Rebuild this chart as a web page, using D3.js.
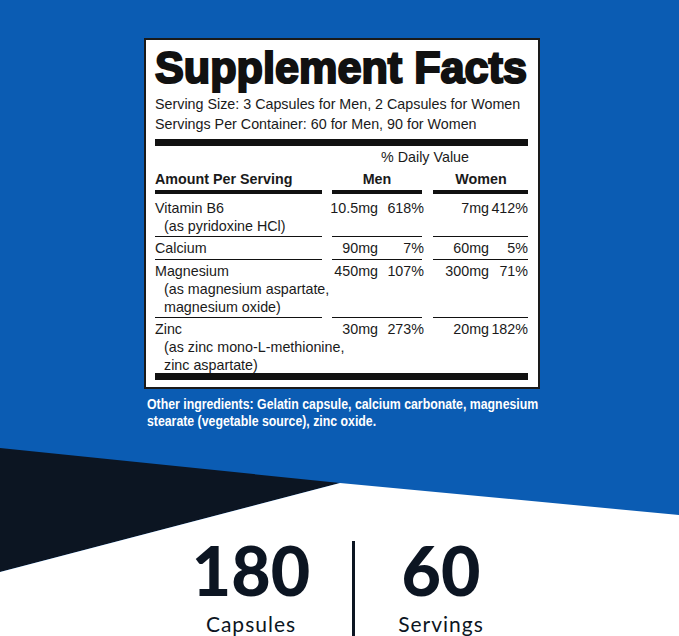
<!DOCTYPE html><html><head><meta charset="utf-8">
<script src="https://cdn.jsdelivr.net/npm/d3@7"></script>
<style>body{margin:0;background:#0b5cb3}svg{display:block}</style></head><body>
<script>
const title = "Supplement Facts";
const servingLines = ["Serving Size: 3 Capsules for Men, 2 Capsules for Women","Servings Per Container: 60 for Men, 90 for Women"];
const nutrients = ["Vitamin B6","Calcium","Magnesium","Zinc"];
const subLines = [["(as pyridoxine HCl)"],[],["(as magnesium aspartate,","magnesium oxide)"],["(as zinc mono-L-methionine,","zinc aspartate)"]];
const menAmt = ["10.5mg","90mg","450mg","30mg"];
const menPct = ["618%","7%","107%","273%"];
const womenAmt = ["7mg","60mg","300mg","20mg"];
const womenPct = ["412%","5%","71%","182%"];
const otherIngr = ["Other ingredients: Gelatin capsule, calcium carbonate, magnesium","stearate (vegetable source), zinc oxide."];
const stats = [{n:"180",l:"Capsules"},{n:"60",l:"Servings"}];

const W=679,H=636;
const svg=d3.select("body").append("svg").attr("width",W).attr("height",H);
const dark="#0c1522", blue="#0b5cb3";
svg.append("rect").attr("width",W).attr("height",H).attr("fill",blue);
svg.append("polygon").attr("points","0,448 340,483 0,572").attr("fill",dark);
svg.append("polygon").attr("points",`0,572 340,483 679,515 679,636 0,636`).attr("fill","#fff");
svg.append("rect").attr("x",145).attr("y",39).attr("width",394).attr("height",349).attr("fill","#fff").attr("stroke","#1a1a1a").attr("stroke-width",2);
const F="Liberation Sans, Arial, sans-serif";
const t=(x,y,s,o={})=>svg.append("text").attr("x",x).attr("y",y).text(s).attr("font-family",o.f||F).attr("font-size",o.fs||14).attr("font-weight",o.fw||400).attr("fill",o.c||"#1a1a1a").attr("text-anchor",o.a||"start");
t(155,83,title,{fs:45,fw:700,c:"#111"}).attr("textLength",372).attr("lengthAdjust","spacingAndGlyphs").attr("stroke","#111").attr("stroke-width",2.2);
servingLines.forEach((s,i)=>t(155,109+i*20,s,{fs:14.3}));
const bar=(x1,x2,y,h)=>svg.append("rect").attr("x",x1).attr("y",y).attr("width",x2-x1).attr("height",h).attr("fill","#111");
bar(155,528,139,7);
t(425,162,"% Daily Value",{fs:14.3,a:"middle"});
t(155,184,"Amount Per Serving",{fs:14.3,fw:700});
t(377,184,"Men",{fs:14.3,fw:700,a:"middle"});
t(481,184,"Women",{fs:14.3,fw:700,a:"middle"});
const segs=[[155,322],[332,422],[433,528]];
segs.forEach(s=>bar(s[0],s[1],190,4));
const rowY=[213,253,276,334];
const lineY=[236,259,317];
const y=d3.scaleOrdinal().domain(nutrients).range(rowY);
nutrients.forEach((n,i)=>{
  const yy=y(n);
  t(155,yy,n,{fs:14.3});
  subLines[i].forEach((s,j)=>t(164,yy+18+j*17.5,s,{fs:14.3}));
  t(378,yy,menAmt[i],{a:"end",fs:14.3}); t(424,yy,menPct[i],{a:"end",fs:14.3});
  t(489,yy,womenAmt[i],{a:"end",fs:14.3}); t(528,yy,womenPct[i],{a:"end",fs:14.3});
  if(i<lineY.length) segs.forEach(s=>bar(s[0],s[1],lineY[i],1));
});
bar(155,528,373,7);
otherIngr.forEach((s,i)=>t(147,409+i*17,s,{fs:14.5,fw:700,c:"#fff"}).attr("transform",`translate(147,0) scale(0.85,1) translate(-147,0)`));
const cx=d3.scalePoint().domain(stats.map(d=>d.n)).range([251,441]);
stats.forEach(d=>{
  t(cx(d.n),596,d.n,{f:"Lato, sans-serif",fs:68,fw:900,c:dark,a:"middle"});
  t(cx(d.n),632,d.l,{f:"Lato, sans-serif",fs:21,fw:400,c:dark,a:"middle"}).attr("letter-spacing",1);
});
svg.append("rect").attr("x",352).attr("y",541).attr("width",3).attr("height",95).attr("fill",dark);
</script></body></html>
